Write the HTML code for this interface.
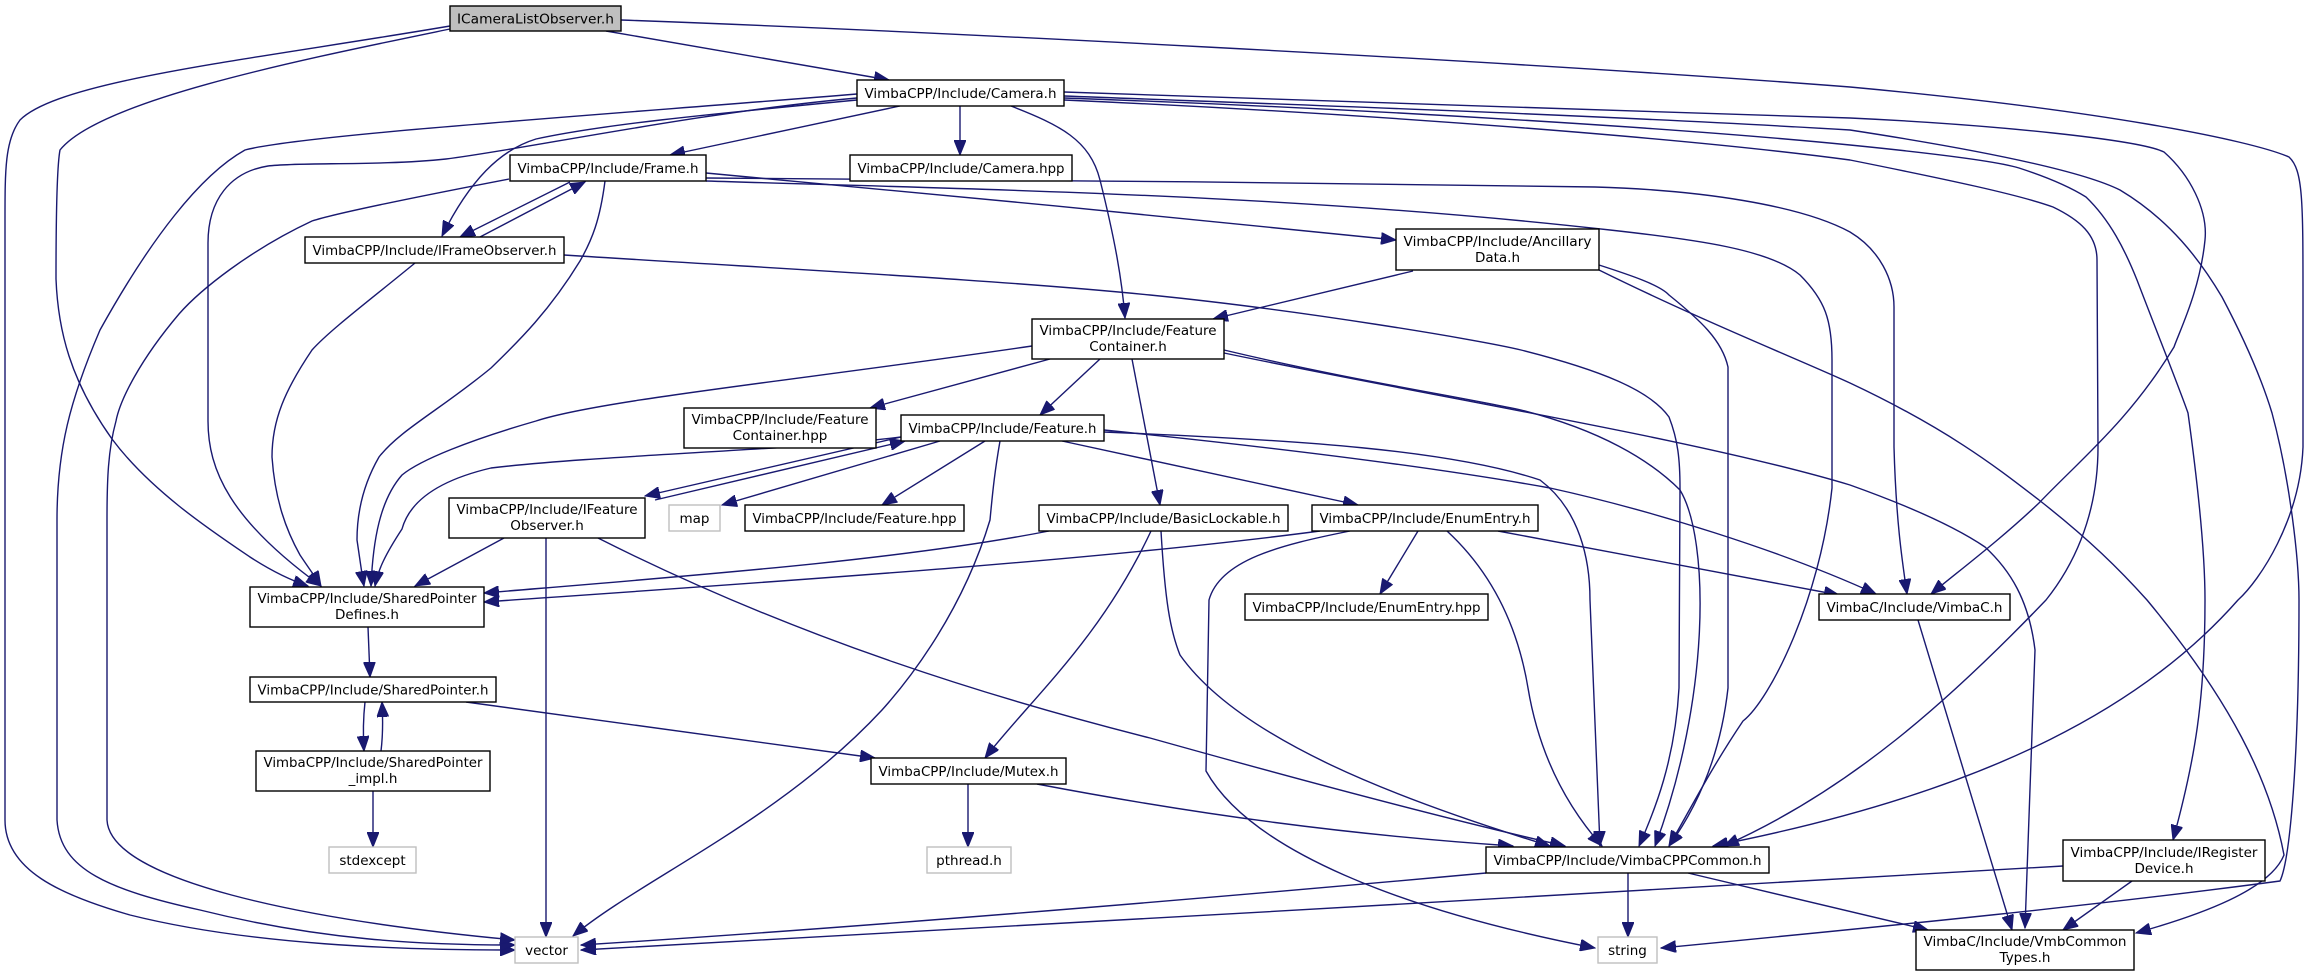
<!DOCTYPE html>
<html><head><meta charset="utf-8"><style>
html,body{margin:0;padding:0;background:#fff;}
svg{display:block;}
text{font-family:"DejaVu Sans","Liberation Sans",sans-serif;font-size:13.5px;fill:#000;}
.e{fill:none;stroke:#191970;stroke-width:1.4;}
.n{fill:#fff;stroke:#000;stroke-width:1.4;}
.g{fill:#fff;stroke:#bfbfbf;stroke-width:1.4;}
</style></head><body>
<svg width="2306" height="976" viewBox="0 0 2306 976" xmlns="http://www.w3.org/2000/svg">
<defs>
<marker id="a" markerUnits="userSpaceOnUse" markerWidth="16" markerHeight="12" refX="15" refY="6" orient="auto">
<path d="M0,0 L15,6 L0,12 z" fill="#191970" stroke="#191970"/>
</marker>
</defs>
<g marker-end="url(#a)">
<!-- ICameraListObserver -->
<path class="e" d="M606,31 L889,80"/>
<path class="e" d="M450,26 C250,60 60,80 20,120 C5,140 5,170 5,220 L5,820 C5,870 60,895 130,915 C250,945 400,950 515,950"/>
<path class="e" d="M450,29 C300,60 100,100 60,150 C56,171 56,260 56,279 C58,330 70,380 112,439 C150,490 210,530 250,557 C270,570 290,580 308,586"/>
<path class="e" d="M621,20 C900,30 1500,60 1850,87 C2100,110 2250,140 2289,157 C2303,170 2303,200 2303,300 L2303,447 C2300,520 2260,580 2238,600 C2150,700 2000,790 1713,846"/>
<!-- Camera.h -->
<path class="e" d="M900,106 L670,155"/>
<path class="e" d="M960,106 L960,155"/>
<path class="e" d="M1011,106 C1060,125 1090,140 1100,180 C1115,240 1122,280 1125,318"/>
<path class="e" d="M857,94 C600,115 300,135 245,150 C200,175 150,240 100,330 C70,400 57,450 57,520 L57,820 C60,870 110,890 200,910 C320,940 420,945 515,945"/>
<path class="e" d="M857,98 C700,112 520,150 446,159 C380,166 300,162 268,166 C230,172 208,200 208,243 L208,421 C208,470 230,520 321,586"/>
<path class="e" d="M857,100 C700,115 600,125 536,139 C500,150 470,180 442,236"/>
<path class="e" d="M1064,92 C1300,100 1600,110 1850,118 C2000,125 2140,140 2164,152 C2190,175 2208,210 2205,240 C2200,290 2180,330 2174,347 C2130,420 2080,460 2039,503 C2000,540 1960,570 1931,594"/>
<path class="e" d="M1064,96 C1300,105 1600,115 1850,130 C1980,150 2080,170 2120,190 C2170,220 2200,260 2222,297 C2250,350 2265,390 2272,413 C2290,480 2299,560 2299,600 C2299,760 2290,860 2280,881 C2100,905 1900,925 1661,948"/>
<path class="e" d="M1064,98 C1400,110 1700,130 1850,145 C1950,155 2000,162 2019,168 C2050,178 2070,187 2086,197 C2110,220 2125,250 2137,280 C2160,340 2180,390 2188,413 C2200,500 2205,560 2205,600 C2205,700 2195,760 2173,840"/>
<path class="e" d="M1064,100 C1400,115 1700,140 1850,160 C1950,180 2020,195 2053,207 C2080,220 2097,235 2097,260 L2098,447 C2098,520 2070,570 2046,600 C1950,700 1850,790 1724,846"/>
<!-- Frame.h -->
<path class="e" d="M570,182 L460,237"/>
<path class="e" d="M480,237 L585,182"/>
<path class="e" d="M706,173 C900,190 1200,220 1396,240"/>
<path class="e" d="M509,179 C400,200 330,215 312,221 C250,250 200,290 179,314 C140,360 120,400 116,421 C108,450 107,480 107,520 L107,820 C110,880 300,920 515,940"/>
<path class="e" d="M605,181 C600,220 592,240 580,261 C550,310 520,340 491,368 C440,410 400,430 379,457 C360,490 357,520 357,540 C360,560 362,575 364,586"/>
<path class="e" d="M706,178 C1000,180 1300,182 1595,187 C1700,190 1800,205 1850,232 C1880,250 1894,280 1894,307 L1894,447 C1896,520 1902,560 1907,594"/>
<path class="e" d="M706,181 C1000,190 1300,195 1610,230 C1700,240 1770,250 1800,275 C1825,300 1832,320 1832,360 L1832,488 C1820,600 1770,700 1743,721 C1710,770 1690,810 1669,846"/>
<!-- IFrameObserver -->
<path class="e" d="M415,263 C370,300 330,330 312,350 C285,390 272,420 272,457 C275,500 286,530 300,555 C310,570 316,578 321,586"/>
<path class="e" d="M564,255 C800,270 1000,280 1150,295 C1300,310 1480,340 1521,350 C1600,370 1650,390 1669,417 C1678,440 1680,460 1680,488 L1679,688 C1675,760 1655,810 1639,846"/>
<!-- Ancillary Data -->
<path class="e" d="M1413,271 L1213,319"/>
<path class="e" d="M1599,265 C1630,275 1660,285 1669,295 C1700,320 1722,340 1728,367 L1728,688 C1720,760 1695,810 1669,846"/>
<path class="e" d="M1599,270 C1700,320 1800,360 1850,383 C1950,430 2000,470 2039,500 C2090,540 2120,570 2147,600 C2230,700 2270,780 2284,855 C2270,890 2200,915 2136,933"/>
<!-- FeatureContainer -->
<path class="e" d="M1050,359 L870,408"/>
<path class="e" d="M1100,359 L1040,415"/>
<path class="e" d="M1132,359 L1160,505"/>
<path class="e" d="M1032,346 C800,380 600,400 536,421 C470,440 420,460 402,475 C380,500 373,540 371,586"/>
<path class="e" d="M1224,350 C1350,380 1450,395 1521,410 C1600,430 1650,460 1680,490 C1710,540 1710,700 1655,846"/>
<path class="e" d="M1224,353 C1450,400 1700,440 1850,485 C1920,510 1960,530 1985,547 C2010,570 2029,600 2035,650 L2025,928"/>
<!-- Feature.h -->
<path class="e" d="M901,437 C800,450 600,455 491,468 C440,480 410,500 402,529 C385,555 378,570 375,586"/>
<path class="e" d="M901,437 L645,496"/>
<path class="e" d="M655,500 L905,441"/>
<path class="e" d="M940,441 L722,505"/>
<path class="e" d="M985,441 L882,505"/>
<path class="e" d="M1062,441 L1358,505"/>
<path class="e" d="M1000,441 C995,470 993,488 990,520 C960,620 900,690 882,710 C780,820 640,880 573,936"/>
<path class="e" d="M1104,432 C1300,440 1450,450 1540,480 C1580,510 1590,560 1590,600 L1600,846"/>
<path class="e" d="M1104,430 C1300,450 1450,470 1550,488 C1650,510 1780,550 1876,594"/>
<!-- IFeatureObserver -->
<path class="e" d="M504,538 L415,586"/>
<path class="e" d="M546,538 L546,937"/>
<path class="e" d="M598,538 C800,640 1000,700 1150,738 C1300,780 1450,820 1565,846"/>
<!-- BasicLockable -->
<path class="e" d="M1049,531 C900,560 700,575 484,593"/>
<path class="e" d="M1151,531 C1100,640 1030,700 985,758"/>
<path class="e" d="M1161,531 C1165,600 1170,630 1180,655 C1240,740 1400,800 1550,846"/>
<!-- EnumEntry -->
<path class="e" d="M1320,531 C1100,560 800,580 484,602"/>
<path class="e" d="M1418,531 L1380,594"/>
<path class="e" d="M1350,531 C1280,545 1220,560 1209,600 L1206,771 C1250,850 1400,910 1595,948"/>
<path class="e" d="M1447,531 C1500,580 1520,640 1528,688 C1540,760 1570,810 1602,846"/>
<path class="e" d="M1498,531 L1839,595"/>
<!-- SharedPointer -->
<path class="e" d="M368,627 L370,677"/>
<path class="e" d="M365,702 C363,720 363,735 364,751"/>
<path class="e" d="M381,751 C383,735 383,720 382,702"/>
<path class="e" d="M466,702 L875,758"/>
<path class="e" d="M373,791 L373,847"/>
<!-- Mutex -->
<path class="e" d="M968,784 L968,847"/>
<path class="e" d="M1037,784 C1200,815 1350,835 1513,846"/>
<!-- Common -->
<path class="e" d="M1486,873 C1300,890 900,925 581,945"/>
<path class="e" d="M1628,873 L1628,937"/>
<path class="e" d="M1688,873 L1928,930"/>
<!-- IRegister -->
<path class="e" d="M2063,866 C1700,890 1000,925 581,950"/>
<path class="e" d="M2132,881 L2063,930"/>
<!-- VimbaC -->
<path class="e" d="M1918,620 L2012,930"/>
</g>

<!-- nodes -->
<rect x="450" y="6" width="171" height="25" fill="#bfbfbf" stroke="#000" stroke-width="1.4"/>
<text x="535.5" y="23.5" text-anchor="middle" textLength="157" lengthAdjust="spacingAndGlyphs">ICameraListObserver.h</text>

<rect class="n" x="857" y="80" width="207" height="26"/>
<text x="960.5" y="98" text-anchor="middle" textLength="192" lengthAdjust="spacingAndGlyphs">VimbaCPP/Include/Camera.h</text>

<rect class="n" x="510" y="155" width="196" height="26"/>
<text x="608" y="173" text-anchor="middle" textLength="181" lengthAdjust="spacingAndGlyphs">VimbaCPP/Include/Frame.h</text>

<rect class="n" x="850" y="155" width="222" height="26"/>
<text x="961" y="173" text-anchor="middle" textLength="207" lengthAdjust="spacingAndGlyphs">VimbaCPP/Include/Camera.hpp</text>

<rect class="n" x="305" y="237" width="259" height="26"/>
<text x="434.5" y="255" text-anchor="middle" textLength="244" lengthAdjust="spacingAndGlyphs">VimbaCPP/Include/IFrameObserver.h</text>

<rect class="n" x="1396" y="229" width="203" height="41"/>
<text x="1497.5" y="246" text-anchor="middle" textLength="188" lengthAdjust="spacingAndGlyphs">VimbaCPP/Include/Ancillary</text>
<text x="1497.5" y="262" text-anchor="middle">Data.h</text>

<rect class="n" x="1032" y="319" width="192" height="40"/>
<text x="1128" y="335" text-anchor="middle" textLength="177" lengthAdjust="spacingAndGlyphs">VimbaCPP/Include/Feature</text>
<text x="1128" y="351" text-anchor="middle">Container.h</text>

<rect class="n" x="684" y="408" width="192" height="40"/>
<text x="780" y="424" text-anchor="middle" textLength="177" lengthAdjust="spacingAndGlyphs">VimbaCPP/Include/Feature</text>
<text x="780" y="440" text-anchor="middle">Container.hpp</text>

<rect class="n" x="901" y="415" width="203" height="26"/>
<text x="1002.5" y="433" text-anchor="middle" textLength="188" lengthAdjust="spacingAndGlyphs">VimbaCPP/Include/Feature.h</text>

<rect class="n" x="449" y="498" width="196" height="40"/>
<text x="547" y="514" text-anchor="middle" textLength="181" lengthAdjust="spacingAndGlyphs">VimbaCPP/Include/IFeature</text>
<text x="547" y="530" text-anchor="middle">Observer.h</text>

<rect class="g" x="669" y="505" width="51" height="26"/>
<text x="694.5" y="523" text-anchor="middle">map</text>

<rect class="n" x="745" y="505" width="219" height="26"/>
<text x="854.5" y="523" text-anchor="middle" textLength="204" lengthAdjust="spacingAndGlyphs">VimbaCPP/Include/Feature.hpp</text>

<rect class="n" x="1039" y="505" width="249" height="26"/>
<text x="1163.5" y="523" text-anchor="middle" textLength="234" lengthAdjust="spacingAndGlyphs">VimbaCPP/Include/BasicLockable.h</text>

<rect class="n" x="1312" y="505" width="226" height="26"/>
<text x="1425" y="523" text-anchor="middle" textLength="211" lengthAdjust="spacingAndGlyphs">VimbaCPP/Include/EnumEntry.h</text>

<rect class="n" x="250" y="587" width="234" height="40"/>
<text x="367" y="603" text-anchor="middle" textLength="219" lengthAdjust="spacingAndGlyphs">VimbaCPP/Include/SharedPointer</text>
<text x="367" y="619" text-anchor="middle">Defines.h</text>

<rect class="n" x="1245" y="594" width="243" height="26"/>
<text x="1366.5" y="612" text-anchor="middle" textLength="228" lengthAdjust="spacingAndGlyphs">VimbaCPP/Include/EnumEntry.hpp</text>

<rect class="n" x="1819" y="594" width="191" height="26"/>
<text x="1914.5" y="612" text-anchor="middle" textLength="176" lengthAdjust="spacingAndGlyphs">VimbaC/Include/VimbaC.h</text>

<rect class="n" x="250" y="677" width="246" height="25"/>
<text x="373" y="694.5" text-anchor="middle" textLength="231" lengthAdjust="spacingAndGlyphs">VimbaCPP/Include/SharedPointer.h</text>

<rect class="n" x="256" y="751" width="234" height="40"/>
<text x="373" y="767" text-anchor="middle" textLength="219" lengthAdjust="spacingAndGlyphs">VimbaCPP/Include/SharedPointer</text>
<text x="373" y="783" text-anchor="middle">_impl.h</text>

<rect class="n" x="871" y="758" width="195" height="26"/>
<text x="968.5" y="776" text-anchor="middle" textLength="180" lengthAdjust="spacingAndGlyphs">VimbaCPP/Include/Mutex.h</text>

<rect class="g" x="329" y="847" width="87" height="26"/>
<text x="372.5" y="865" text-anchor="middle">stdexcept</text>

<rect class="g" x="927" y="847" width="84" height="26"/>
<text x="969" y="865" text-anchor="middle">pthread.h</text>

<rect class="n" x="1486" y="847" width="283" height="26"/>
<text x="1627.5" y="865" text-anchor="middle" textLength="268" lengthAdjust="spacingAndGlyphs">VimbaCPP/Include/VimbaCPPCommon.h</text>

<rect class="n" x="2063" y="840" width="202" height="41"/>
<text x="2164" y="857" text-anchor="middle" textLength="187" lengthAdjust="spacingAndGlyphs">VimbaCPP/Include/IRegister</text>
<text x="2164" y="873" text-anchor="middle">Device.h</text>

<rect class="g" x="515" y="937" width="63" height="26"/>
<text x="546.5" y="955" text-anchor="middle">vector</text>

<rect class="g" x="1598" y="937" width="59" height="26"/>
<text x="1627.5" y="955" text-anchor="middle">string</text>

<rect class="n" x="1916" y="930" width="218" height="40"/>
<text x="2025" y="946" text-anchor="middle" textLength="203" lengthAdjust="spacingAndGlyphs">VimbaC/Include/VmbCommon</text>
<text x="2025" y="962" text-anchor="middle">Types.h</text>
</svg>
</body></html>
